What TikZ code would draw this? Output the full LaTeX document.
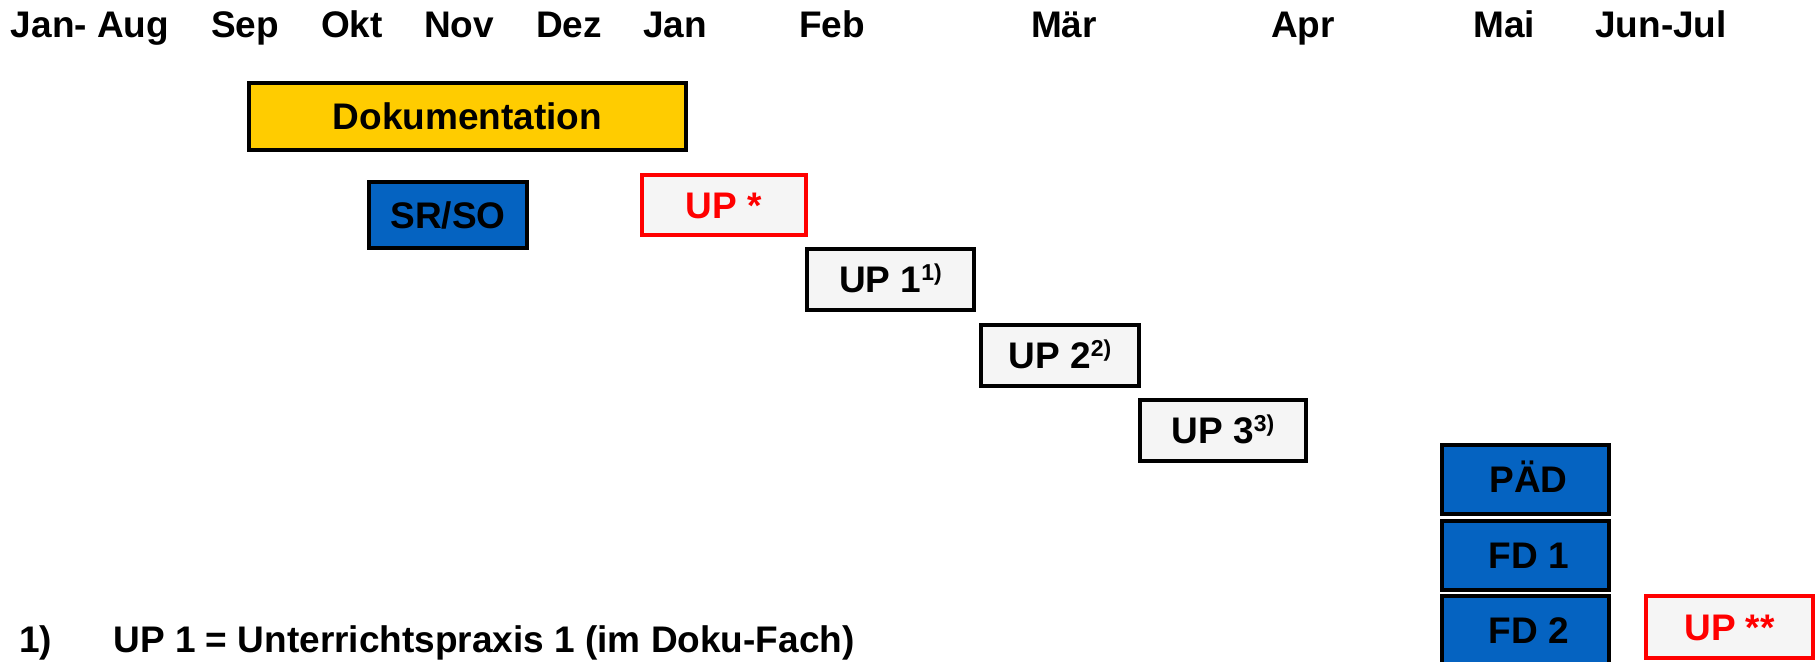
\documentclass[tikz,border=0pt]{standalone}
\usepackage{fontspec}
\setmainfont{Liberation Sans}
\definecolor{dokuyellow}{HTML}{FFCC00}
\definecolor{boxblue}{HTML}{0563C1}
\definecolor{boxgray}{HTML}{F5F5F5}
\definecolor{boxred}{HTML}{FF0000}
\tikzset{
  lbl/.style={font=\fontsize{18.5}{20}\selectfont\bfseries, inner sep=0pt},
  hdr/.style={lbl, anchor=base},
  bx/.style={lbl, draw=black, line width=2pt, text height=13.2pt, text depth=0pt, align=center},
  yellowbox/.style={bx, fill=dokuyellow},
  bluebox/.style={bx, fill=boxblue},
  graybox/.style={bx, fill=boxgray},
  redbox/.style={bx, fill=boxgray, draw=boxred, text=boxred},
}
\newcommand{\supnote}[1]{\raisebox{0.62ex}{\fontsize{11.5}{12}\selectfont #1}}
\begin{document}
\begin{tikzpicture}[x=0.5pt, y=-0.5pt]
\useasboundingbox[fill=white] (0,0) rectangle (1819,661);
% header months
\node[hdr] (h0) at (90,37) {Jan- Aug};
\node[hdr] (h1) at (245,37) {Sep};
\node[hdr] (h2) at (352,37) {Okt};
\node[hdr] (h3) at (459,37) {Nov};
\node[hdr] (h4) at (569,37) {Dez};
\node[hdr] (h5) at (675,37) {Jan};
\node[hdr] (h6) at (832,37) {Feb};
\node[hdr] (h7) at (1064,37) {Mär};
\node[hdr] (h8) at (1303,37) {Apr};
\node[hdr] (h9) at (1504,37) {Mai};
\node[hdr] (h10) at (1661,37) {Jun-Jul};
% boxes
\node[yellowbox, minimum width=218.5pt, minimum height=33.5pt] (doku) at (467.5,116.5) {Dokumentation};
\node[bluebox, minimum width=79pt, minimum height=33pt] (srso) at (448,215) {SR/SO};
\node[redbox, minimum width=82pt, minimum height=30pt] (upstar) at (724,205) {UP *};
\node[graybox, minimum width=83.5pt, minimum height=30.5pt] (up1) at (890.5,279.5) {UP 1\supnote{1)}};
\node[graybox, minimum width=79pt, minimum height=30.5pt] (up2) at (1060,355.5) {UP 2\supnote{2)}};
\node[graybox, minimum width=83pt, minimum height=30.5pt] (up3) at (1223,430.5) {UP 3\supnote{3)}};
\node[bluebox, minimum width=83.5pt, minimum height=34.5pt] (pad) at (1525.5,479.5) {\,PÄD};
\node[bluebox, minimum width=83.5pt, minimum height=34.5pt] (fd1) at (1525.5,555.5) {\,FD 1};
\node[bluebox, minimum width=83.5pt, minimum height=34.5pt] (fd2) at (1525.5,630.5) {\,FD 2};
\node[redbox, minimum width=83.5pt, minimum height=31pt] (upss) at (1729.5,627) {UP **};
% footnote
\node[lbl, anchor=base west] (fnum) at (19,652) {1)};
\node[lbl, anchor=base west] (ftext) at (113,652) {UP 1 = Unterrichtspraxis 1 (im Doku-Fach)};
\end{tikzpicture}
\end{document}
